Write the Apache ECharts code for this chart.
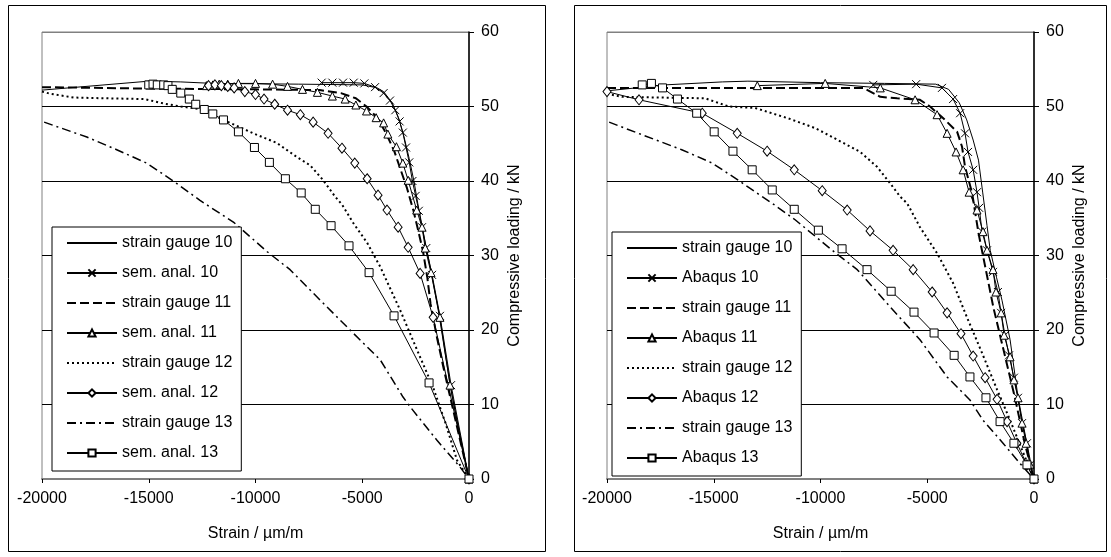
<!DOCTYPE html>
<html><head><meta charset="utf-8">
<script src="https://cdn.jsdelivr.net/npm/echarts@6/dist/echarts.min.js"></script>
<style>html,body{margin:0;padding:0;background:#fff}#c{width:1111px;height:557px}</style>
</head><body><div id="c"></div>
<script>
// ---- tick labels / categories ----
const xTicks = [-20000, -15000, -10000, -5000, 0];
const yTicks = [0, 10, 20, 30, 40, 50, 60];
const leftNames = ['strain gauge 10','sem. anal. 10','strain gauge 11','sem. anal. 11','strain gauge 12','sem. anal. 12','strain gauge 13','sem. anal. 13'];
const rightNames = ['strain gauge 10','Abaqus 10','strain gauge 11','Abaqus 11','strain gauge 12','Abaqus 12','strain gauge 13','Abaqus 13'];

// ---- left panel data [strain µm/m, load kN] ----
const L_sg10 = [[-20000,52.2],[-15000,53.4],[-13500,53.3],[-12000,53.1],[-8000,53.0],[-5000,52.9],[-4300,52.5],[-4000,52],[-3600,50.5],[-3300,48.5],[-3050,46],[-2800,43],[-2580,40],[-2400,37],[-2200,34],[-2000,31],[-1750,27.5],[-1400,22],[-1070,16],[-780,11],[-390,5],[0,0]];
const L_sa10 = [[-6900,53.2],[-6400,53.2],[-5900,53.2],[-5400,53.2],[-4900,53.1],[-4400,52.6],[-4000,51.8],[-3700,50.8],[-3450,49.5],[-3250,48],[-3100,46.5],[-2950,44.5],[-2800,42.5],[-2650,40],[-2500,38],[-2350,36],[-2200,33.8],[-2000,31],[-1730,27.4],[-1360,21.9],[-840,12.6],[0,0]];
const L_sg11 = [[-20000,52.6],[-15000,52.4],[-10000,52.3],[-7000,52.2],[-6000,51.8],[-5300,51.1],[-4800,50],[-4300,48.5],[-3900,46.5],[-3500,44],[-3200,41.5],[-2900,39],[-2600,36],[-2350,33],[-2150,30.5],[-1950,27],[-1800,23.5],[-1500,19],[-1200,15],[-800,10],[-400,5],[0,0]];
const L_sa11 = [[-12300,52.8],[-12000,52.9],[-11700,53],[-11300,53],[-10800,53.1],[-10000,53.1],[-9200,53],[-8500,52.7],[-7800,52.3],[-7100,51.9],[-6400,51.4],[-5800,51],[-5300,50.2],[-4800,49.4],[-4350,48.5],[-4000,47.8],[-3800,46.3],[-3400,44.6],[-3100,42.4],[-2850,40.1],[-2450,36.1],[-2200,33.8],[-2050,31],[-1780,27.7],[-1360,21.7],[-890,12.6],[0,0]];
const L_sg12 = [[-20000,52],[-19600,51.7],[-18500,51.2],[-17000,51.1],[-15200,51],[-14300,50.4],[-13500,50],[-12700,49.7],[-11500,48.2],[-10100,46.4],[-9000,45.1],[-8050,43.2],[-7440,42.1],[-6830,40.1],[-6270,37.9],[-5940,36.8],[-5430,34.4],[-4770,31.7],[-4160,28.5],[-3230,22.7],[-2430,17.3],[-1680,12.3],[-1100,7.5],[-560,2.5],[0,0]];
const L_sa12 = [[-12200,52.8],[-11900,52.9],[-11600,52.8],[-11300,52.7],[-11000,52.5],[-10500,52],[-10000,51.6],[-9600,51],[-9100,50.3],[-8500,49.5],[-7900,48.9],[-7300,47.9],[-6600,46.4],[-5950,44.4],[-5350,42.4],[-4770,40.3],[-4260,38.1],[-3840,36.1],[-3320,33.8],[-2850,31.1],[-2290,27.6],[-1680,21.7],[0,0]];
const L_sg13 = [[-19900,47.9],[-17900,45.9],[-16500,44.2],[-15100,42.4],[-13900,40.1],[-12600,37.4],[-11000,34.4],[-9450,30.5],[-8380,28.1],[-6970,24],[-5570,20],[-4160,16],[-3090,11],[-2760,9.7],[-1500,5.2],[-420,1.6],[0,0]];
const L_sa13 = [[-15000,52.9],[-14800,53],[-14600,52.9],[-14300,52.9],[-14100,52.8],[-13900,52.3],[-13500,51.8],[-13100,51],[-12800,50.3],[-12400,49.6],[-12000,49],[-11500,48.2],[-10800,46.6],[-10050,44.5],[-9350,42.5],[-8600,40.3],[-7860,38.4],[-7200,36.2],[-6460,34],[-5620,31.3],[-4680,27.7],[-3510,21.9],[-1870,12.9],[0,0]];

// ---- right panel data ----
const R_sg10 = [[-20000,52.1],[-18300,52.6],[-17300,52.9],[-14600,53.3],[-13400,53.4],[-10000,53.2],[-7000,53.1],[-4600,53],[-4000,52.3],[-3500,50.5],[-3150,48.2],[-2850,45.5],[-2600,42.8],[-2400,38.4],[-2200,34],[-2050,30.7],[-1750,27],[-1500,24],[-1120,18.7],[-750,11],[-350,5],[0,0]];
const R_ab10 = [[-7530,52.9],[-5520,53],[-4310,52.5],[-3790,51],[-3460,49.1],[-3230,46.4],[-3090,43.9],[-2850,41.5],[-2670,38.5],[-2570,36.4],[-2430,33.2],[-2200,30.7],[-1920,27.8],[-1690,25.1],[-1540,22.3],[-1360,19.3],[-1170,16.6],[-940,13.6],[-750,10.9],[-560,7.5],[-330,4.8],[-190,1.9],[0,0]];
const R_sg11 = [[-20000,52.5],[-15000,52.5],[-10000,52.5],[-8000,52.5],[-7200,51.3],[-6410,51.1],[-5340,50.9],[-4870,50],[-4170,48.2],[-3600,46.6],[-3370,44.6],[-3230,41.9],[-2900,38.4],[-2600,33],[-2250,28],[-1900,23],[-1400,17],[-900,11],[-450,5],[0,0]];
const R_ab11 = [[-12960,52.8],[-9780,53.1],[-7200,52.5],[-5570,50.9],[-4540,48.9],[-4070,46.4],[-3650,43.9],[-3320,41.5],[-3040,38.5],[-2670,36.1],[-2390,33.2],[-2200,30.7],[-1920,28.1],[-1780,25.1],[-1540,22.3],[-1400,19.3],[-1120,16.4],[-940,13.3],[-750,10.9],[-560,7.5],[-370,4.8],[-190,2],[0,0]];
const R_sg12 = [[-20000,51.7],[-19300,51.3],[-17500,51.2],[-15400,51.1],[-14300,50],[-13060,49.8],[-11500,48.4],[-10250,47.1],[-9450,45.9],[-8140,43.9],[-7350,41.9],[-6740,39.7],[-6270,37.9],[-5940,37],[-5340,33.8],[-4540,30.3],[-3790,26.3],[-3140,21.7],[-2430,16.9],[-1730,12],[-1120,7.9],[-560,3.9],[0,0]];
const R_ab12 = [[-20000,52],[-18500,50.9],[-15540,49.1],[-13900,46.4],[-12500,44],[-11230,41.5],[-9920,38.7],[-8750,36.1],[-7680,33.3],[-6600,30.7],[-5660,28.1],[-4770,25.1],[-4070,22.3],[-3420,19.5],[-2850,16.5],[-2290,13.6],[-1730,10.7],[-1260,7.7],[-800,4.8],[-330,1.9],[0,0]];
const R_sg13 = [[-19900,47.9],[-18350,46.2],[-16500,44.2],[-15070,42.4],[-13850,40.1],[-12730,37.9],[-12260,37],[-11190,34.8],[-9450,30.7],[-8280,28.1],[-6740,23.1],[-5340,18.7],[-4070,13.7],[-3000,10.6],[-2390,7.9],[-1450,4.8],[-660,2.1],[0,0]];
const R_ab13 = [[-18350,52.9],[-17920,53.1],[-17400,52.5],[-16700,51],[-15800,49.1],[-14980,46.6],[-14100,44],[-13200,41.5],[-12260,38.8],[-11230,36.2],[-10100,33.4],[-8990,30.9],[-7820,28.1],[-6690,25.2],[-5620,22.4],[-4680,19.6],[-3740,16.6],[-3000,13.7],[-2250,10.9],[-1590,7.7],[-940,4.8],[-330,1.9],[0,0]];

const FONT = '"Liberation Sans", Arial, sans-serif';
const XSYM = 'path://M0,0L10,10M10,0L0,10';
const styles = [
  {line:{type:'solid', width:1}, sym:'none'},
  {line:{type:'solid', width:1}, sym:XSYM, size:8},
  {line:{type:[9,4], width:2}, sym:'none'},
  {line:{type:'solid', width:1}, sym:'triangle', size:8},
  {line:{type:[2,3], width:2}, sym:'none'},
  {line:{type:'solid', width:1}, sym:'diamond', size:[8,10]},
  {line:{type:[9,4,2,4], width:1.5}, sym:'none'},
  {line:{type:'solid', width:1}, sym:'rect', size:8}
];
const leftData = [L_sg10,L_sa10,L_sg11,L_sa11,L_sg12,L_sa12,L_sg13,L_sa13];
const rightData = [R_sg10,R_ab10,R_sg11,R_ab11,R_sg12,R_ab12,R_sg13,R_ab13];

function mkSeries(names, datas, gi){
  return names.map((n,i)=>{
    const st = styles[i];
    return {
      type:'line', name:n, xAxisIndex:gi, yAxisIndex:gi, data:datas[i],
      symbol: st.sym, symbolSize: st.size || 0, showSymbol: st.sym!=='none',
      color:'#000',
      lineStyle:Object.assign({color:'#000'}, st.line),
      itemStyle:{color: st.sym===XSYM ? '#000' : '#fff', borderColor:'#000', borderWidth:1},
      emphasis:{disabled:true}, animation:false, z: 2
    };
  });
}

function xAxis(gi){
  return {gridIndex:gi, type:'value', min:-20000, max:0, interval:5000,
    axisLine:{show:true, onZero:false, lineStyle:{color:'#808080', width:2}},
    axisTick:{show:true, inside:false, length:4, lineStyle:{color:'#000'}},
    axisLabel:{color:'#000', fontSize:16, fontFamily:FONT, margin:12, formatter:(v)=>String(v)},
    splitLine:{show:false},
    name:'Strain / µm/m', nameLocation:'middle', nameGap:47,
    nameTextStyle:{color:'#000', fontSize:16, fontFamily:FONT}};
}
function yAxis(gi){
  return {gridIndex:gi, type:'value', position:'right', min:0, max:60, interval:10,
    axisLine:{show:true, onZero:false, lineStyle:{color:'#000', width:1.5}},
    axisTick:{show:true, inside:false, length:5, lineStyle:{color:'#000'}},
    axisLabel:{color:'#000', fontSize:16, fontFamily:FONT, margin:12, formatter:(v)=>String(v)},
    splitLine:{show:true, lineStyle:{color:['#808080','#000','#000','#000','#000','#000','#808080'], width:1}},
    name:'Compressive loading / kN', nameLocation:'middle', nameGap:38, nameRotate:90,
    nameTextStyle:{color:'#000', fontSize:16, fontFamily:FONT}};
}
function legend(names, left, top){
  return {show:true, orient:'vertical', left:left, top:top,
    data:names.map((n,i)=> styles[i].sym==='none' ? {name:n, itemStyle:{opacity:0}} : {name:n}),
    itemWidth:50, itemHeight:9, itemGap:14, padding:[8,9,10,14],
    borderColor:'#000', borderWidth:1, borderRadius:0, backgroundColor:'#fff',
    textStyle:{color:'#000', fontSize:16, fontFamily:FONT},
    selectedMode:false, z:10};
}

const chart = echarts.init(document.getElementById('c'), null, {renderer:'canvas'});
chart.setOption({
  animation:false,
  backgroundColor:'#fff',
  graphic:[
    {type:'rect', shape:{x:8.5,y:5.5,width:537,height:546}, style:{fill:null, stroke:'#000', lineWidth:1}, z:0},
    {type:'rect', shape:{x:574.5,y:5.5,width:532,height:546}, style:{fill:null, stroke:'#000', lineWidth:1}, z:0}
  ],
  grid:[
    {left:42, top:32, width:427, height:447, show:true, borderColor:'#808080', borderWidth:1, backgroundColor:'#fff'},
    {left:607, top:32, width:427, height:447, show:true, borderColor:'#808080', borderWidth:1, backgroundColor:'#fff'}
  ],
  xAxis:[xAxis(0), xAxis(1)],
  yAxis:[yAxis(0), yAxis(1)],
  legend:[legend(leftNames, 52, 227), legend(rightNames, 612, 232)],
  series: mkSeries(leftNames, leftData, 0).concat(mkSeries(rightNames, rightData, 1))
});
</script>
</body></html>
